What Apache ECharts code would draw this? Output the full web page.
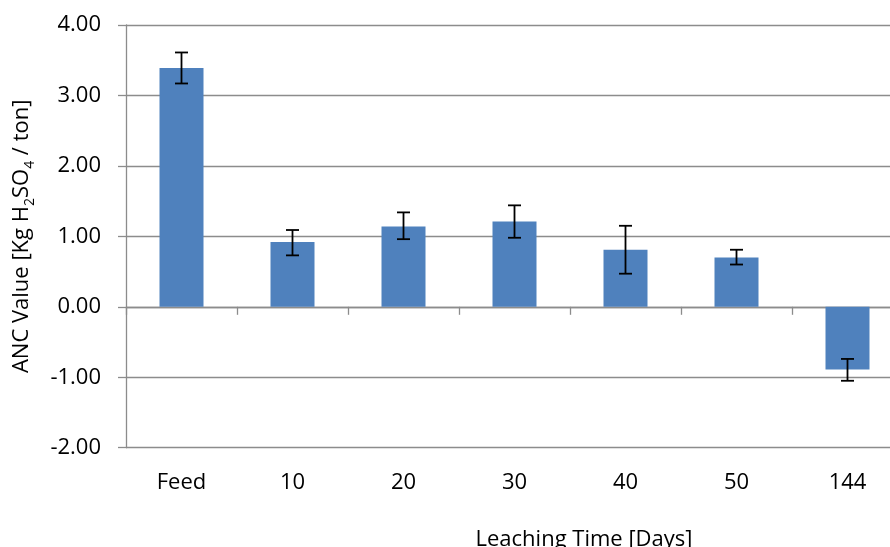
<!DOCTYPE html>
<html>
<head>
<meta charset="utf-8">
<script src="https://cdn.jsdelivr.net/npm/echarts@6/dist/echarts.min.js"></script>
<style>html,body{margin:0;padding:0;background:#fff}#c{width:890px;height:547px}</style>
</head>
<body>
<div id="c"></div>
<script>
var categories = ['Feed', '10', '20', '30', '40', '50', '144'];
var ancValues = [3.39, 0.92, 1.14, 1.21, 0.81, 0.70, -0.89];
var errLow = [3.17, 0.73, 0.96, 0.98, 0.47, 0.60, -1.05];
var errHigh = [3.61, 1.09, 1.34, 1.44, 1.15, 0.81, -0.74];
var yTicks = [-2, -1, 0, 1, 2, 3, 4];

var FONT = '"Open Sans", "Liberation Sans", sans-serif';
var GRAY = '#8c8c8c';

var errData = categories.map(function (c, i) { return [i, errLow[i], errHigh[i]]; });

var chart = echarts.init(document.getElementById('c'), null, {renderer: 'canvas'});
chart.setOption({
  animation: false,
  backgroundColor: '#ffffff',
  grid: {left: 126, top: 25, width: 777, height: 422.7, containLabel: false, outerBoundsMode: 'none'},
  xAxis: [
    {
      type: 'category', data: categories, position: 'bottom',
      axisLine: {onZero: true, lineStyle: {color: GRAY, width: 1.3}},
      axisTick: {show: true, alignWithLabel: false, length: 8, inside: false, lineStyle: {color: GRAY, width: 1.3}},
      axisLabel: {show: false},
      splitLine: {show: false}
    },
    {
      type: 'category', data: categories, position: 'bottom',
      axisLine: {show: false, onZero: false},
      axisTick: {show: false},
      axisLabel: {show: true, margin: 24, fontFamily: FONT, fontSize: 22, color: '#000'},
      splitLine: {show: false}
    }
  ],
  yAxis: {
    type: 'value', min: yTicks[0], max: yTicks[yTicks.length - 1], interval: 1,
    axisLine: {show: true, lineStyle: {color: GRAY, width: 1.3}},
    axisTick: {show: true, length: 8, inside: false, lineStyle: {color: GRAY, width: 1.3}},
    axisLabel: {margin: 25, fontFamily: FONT, fontSize: 22, color: '#000',
      formatter: function (v) { return v.toFixed(2); }},
    splitLine: {show: true, lineStyle: {color: GRAY, width: 1.3}},
    name: 'ANC Value [Kg H{sub|2}SO{sub|4} / ton]',
    nameLocation: 'middle', nameRotate: 90, nameGap: 89,
    nameTextStyle: {fontFamily: FONT, fontSize: 22, color: '#000', lineHeight: 30,
      rich: {sub: {fontFamily: FONT, fontSize: 14, color: '#000', verticalAlign: 'bottom', lineHeight: 16}}}
  },
  series: [
    {
      type: 'bar', xAxisIndex: 0, data: ancValues, barWidth: 44,
      itemStyle: {color: '#4f81bd'}
    },
    {
      type: 'custom', xAxisIndex: 0, data: errData, z: 10,
      renderItem: function (params, api) {
        var x = api.value(0);
        var lo = api.coord([x, api.value(1)]);
        var hi = api.coord([x, api.value(2)]);
        var hw = 6.5;
        var st = {stroke: '#000', lineWidth: 1.8};
        return {type: 'group', children: [
          {type: 'line', shape: {x1: lo[0], y1: lo[1], x2: hi[0], y2: hi[1]}, style: st},
          {type: 'line', shape: {x1: lo[0] - hw, y1: lo[1], x2: lo[0] + hw, y2: lo[1]}, style: st},
          {type: 'line', shape: {x1: hi[0] - hw, y1: hi[1], x2: hi[0] + hw, y2: hi[1]}, style: st}
        ]};
      }
    }
  ],
  graphic: [
    {type: 'text', x: 584, y: 529,
      style: {text: 'Leaching Time [Days]', fontFamily: FONT, fontSize: 22, fill: '#000',
        textAlign: 'center', textVerticalAlign: 'top'}}
  ]
});
</script>
</body>
</html>
